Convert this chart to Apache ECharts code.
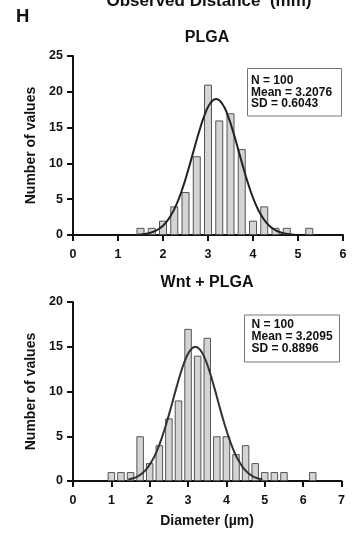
<!DOCTYPE html>
<html>
<head>
<meta charset="utf-8">
<style>
html,body{margin:0;padding:0;background:#fff;}
#chart{width:358px;height:539px;}
</style>
<script src="https://cdn.jsdelivr.net/npm/echarts@6/dist/echarts.min.js"></script>
</head>
<body>
<div id="chart"></div>
<script>
// ---- Data ----
var binCentersTop = [1.5, 1.75, 2.0, 2.25, 2.5, 2.75, 3.0, 3.25, 3.5, 3.75, 4.0, 4.25, 4.5, 4.75, 5.25];
var countsTop     = [1, 1, 2, 4, 6, 11, 21, 16, 17, 12, 2, 4, 1, 1, 1];

var curveXTop = [1.43, 1.555, 1.68, 1.805, 1.93, 2.055, 2.18, 2.305, 2.43, 2.555, 2.68, 2.805, 2.93, 3.055, 3.18, 3.305, 3.43, 3.555, 3.68, 3.805, 3.93, 4.055, 4.18, 4.305, 4.43, 4.555, 4.68, 4.805, 4.93];
var curveYTop = [0.05, 0.12, 0.25, 0.50, 0.94, 1.67, 2.78, 4.36, 6.44, 8.97, 11.75, 14.50, 16.85, 18.44, 19.0, 18.44, 16.85, 14.50, 11.75, 8.97, 6.44, 4.36, 2.78, 1.67, 0.94, 0.50, 0.25, 0.12, 0.05];

var binCentersBot = [1.0, 1.25, 1.5, 1.75, 2.0, 2.25, 2.5, 2.75, 3.0, 3.25, 3.5, 3.75, 4.0, 4.25, 4.5, 4.75, 5.0, 5.25, 5.5, 6.25];
var countsBot     = [1, 1, 1, 5, 2, 4, 7, 9, 17, 14, 16, 5, 5, 3, 4, 2, 1, 1, 1, 1];

var curveXBot = [1.44, 1.565, 1.69, 1.815, 1.94, 2.065, 2.19, 2.315, 2.44, 2.565, 2.69, 2.815, 2.94, 3.065, 3.19, 3.315, 3.44, 3.565, 3.69, 3.815, 3.94, 4.065, 4.19, 4.315, 4.44, 4.565, 4.69, 4.815, 4.94];
var curveYBot = [0.16, 0.30, 0.53, 0.90, 1.47, 2.28, 3.39, 4.81, 6.50, 8.39, 10.35, 12.17, 13.67, 14.66, 15.0, 14.66, 13.67, 12.17, 10.35, 8.39, 6.50, 4.81, 3.39, 2.28, 1.47, 0.90, 0.53, 0.30, 0.16];

var xTicksTop = [0, 1, 2, 3, 4, 5, 6];
var yTicksTop = [0, 5, 10, 15, 20, 25];
var xTicksBot = [0, 1, 2, 3, 4, 5, 6, 7];
var yTicksBot = [0, 5, 10, 15, 20];

var statsTop = ['N = 100', 'Mean = 3.2076', 'SD = 0.6043'];
var statsBot = ['N = 100', 'Mean = 3.2095', 'SD = 0.8896'];

var titleMain = 'Observed Distance  (mm)';
var panelLetter = 'H';
var titleTop = 'PLGA';
var titleBot = 'Wnt + PLGA';
var xName = 'Diameter (\u00b5m)';
var yName = 'Number of values';

// ---- Build ----
function pairs(xs, ys) { return xs.map(function (x, i) { return [x, ys[i]]; }); }

var FONT = '"Liberation Sans", Arial, sans-serif';
var axisLine = { show: true, lineStyle: { color: '#111', width: 2 } };
var axisTick = { show: true, length: 6, inside: false, lineStyle: { color: '#111', width: 2 } };
function xAxis(gi, max) {
  return {
    type: 'value', gridIndex: gi, min: 0, max: max, interval: 1,
    axisLine: axisLine, axisTick: axisTick, splitLine: { show: false },
    axisLabel: { margin: 13, color: '#111', fontFamily: FONT, fontWeight: 'bold', fontSize: 12.5 }
  };
}
function yAxis(gi, max) {
  return {
    type: 'value', gridIndex: gi, min: 0, max: max, interval: 5,
    axisLine: axisLine, axisTick: axisTick, splitLine: { show: false },
    axisLabel: { margin: 10, color: '#111', fontFamily: FONT, fontWeight: 'bold', fontSize: 12.5 },
    name: yName, nameLocation: 'middle', nameRotate: 90, nameGap: 30,
    nameTextStyle: { color: '#111', fontFamily: FONT, fontWeight: 'bold', fontSize: 14 }
  };
}
var barStyle = { color: '#d4d4d4', borderColor: '#555', borderWidth: 1 };

function textEl(x, y, str, size, align) {
  return {
    type: 'text', x: x, y: y,
    style: { text: str, fill: '#111', font: 'bold ' + size + 'px ' + FONT, textAlign: align || 'center', textVerticalAlign: 'middle' }
  };
}

var graphics = [
  textEl(209, 1, titleMain, 17),
  textEl(16, 17, panelLetter, 18.5, 'left'),
  textEl(207, 37.5, titleTop, 16),
  textEl(207, 282.5, titleBot, 16),
  textEl(207, 521, xName, 14),
  { type: 'rect', shape: { x: 247.5, y: 68.5, width: 94, height: 47.5 }, style: { fill: '#fff', stroke: '#777', lineWidth: 1 }, z: 10 },
  { type: 'rect', shape: { x: 244.5, y: 315, width: 95, height: 47 }, style: { fill: '#fff', stroke: '#777', lineWidth: 1 }, z: 10 }
];
statsTop.forEach(function (s, i) { var t = textEl(251, 80.9 + i * 11.3, s, 12, 'left'); t.z = 11; graphics.push(t); });
statsBot.forEach(function (s, i) { var t = textEl(251.5, 325 + i * 11.65, s, 12, 'left'); t.z = 11; graphics.push(t); });

var option = {
  backgroundColor: '#fff',
  animation: false,
  grid: [
    { left: 73, top: 56, width: 270, height: 179 },
    { left: 73, top: 302, width: 268.5, height: 179 }
  ],
  xAxis: [xAxis(0, 6), xAxis(1, 7)],
  yAxis: [yAxis(0, 25), yAxis(1, 20)],
  series: [
    { type: 'bar', xAxisIndex: 0, yAxisIndex: 0, barWidth: 8, data: pairs(binCentersTop, countsTop), itemStyle: barStyle },
    { type: 'line', xAxisIndex: 0, yAxisIndex: 0, smooth: true, showSymbol: false, data: pairs(curveXTop, curveYTop), lineStyle: { color: '#222', width: 2 }, z: 5 },
    { type: 'bar', xAxisIndex: 1, yAxisIndex: 1, barWidth: 7.5, data: pairs(binCentersBot, countsBot), itemStyle: barStyle },
    { type: 'line', xAxisIndex: 1, yAxisIndex: 1, smooth: true, showSymbol: false, data: pairs(curveXBot, curveYBot), lineStyle: { color: '#333', width: 2 }, z: 5 }
  ],
  graphic: graphics
};

var chart = echarts.init(document.getElementById('chart'), null, { renderer: 'canvas' });
chart.setOption(option);
</script>
</body>
</html>
